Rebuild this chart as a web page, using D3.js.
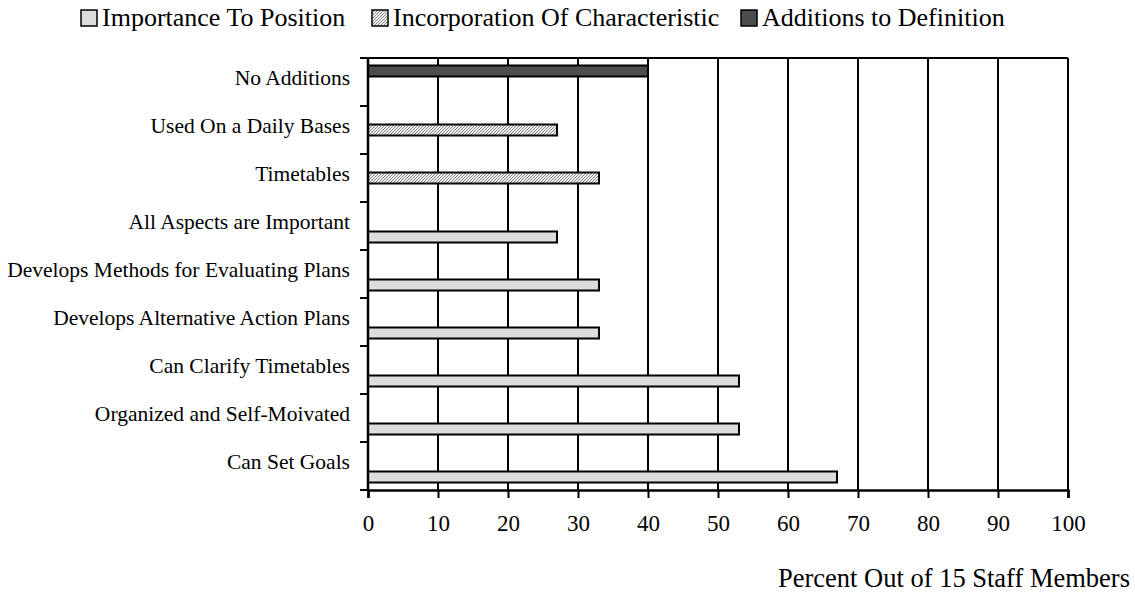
<!DOCTYPE html>
<html>
<head>
<meta charset="utf-8">
<script src="https://cdn.jsdelivr.net/npm/d3@7"></script>
<style>
  html, body { margin: 0; padding: 0; background: #fff; }
  svg { display: block; }
  text { font-family: "Liberation Serif", "Times New Roman", serif; fill: #000; }
</style>
</head>
<body>
<svg id="chart" width="1135" height="608"></svg>
<script>
// Categories, listed top to bottom
const categories = [
  "No Additions",
  "Used On a Daily Bases",
  "Timetables",
  "All Aspects are Important",
  "Develops Methods for Evaluating Plans",
  "Develops Alternative Action Plans",
  "Can Clarify Timetables",
  "Organized and Self-Moivated",
  "Can Set Goals"
];
const seriesNames = ["Importance To Position", "Incorporation Of Characteristic", "Additions to Definition"];
// Percent of staff per category, one array per series (null = no bar)
const importance    = [null, null, null, 27, 33, 33, 53, 53, 67];
const incorporation = [null, 27, 33, null, null, null, null, null, null];
const additions     = [40, null, null, null, null, null, null, null, null];
const xTicks = [0, 10, 20, 30, 40, 50, 60, 70, 80, 90, 100];

const seriesValues = [importance, incorporation, additions];

const svg = d3.select("#chart");
const defs = svg.append("defs");
const hatch = defs.append("pattern")
  .attr("id", "hatch").attr("patternUnits", "userSpaceOnUse")
  .attr("width", 3).attr("height", 3);
hatch.append("rect").attr("width", 3).attr("height", 3).attr("fill", "#eeeeee");
hatch.append("path").attr("d", "M-1,1 l2,-2 M0,3 l3,-3 M2,4 l2,-2")
  .attr("stroke", "#8a8a8a").attr("stroke-width", 1);

const fills = ["#dcdcdc", "url(#hatch)", "#4d4d4d"];

const margin = { left: 368, right: 1068, top: 58, bottom: 490 };

const x = d3.scaleLinear().domain([0, 100]).range([margin.left, margin.right]);
const y = d3.scaleBand().domain(categories).range([margin.top, margin.bottom]).paddingInner(0).paddingOuter(0);
// Within each band the series stack from the bottom slot (series 0) upward
const slot = d3.scaleBand().domain([2, 1, 0]).range([0, y.bandwidth()]).paddingInner(0).paddingOuter(0.68);

// Vertical gridlines
svg.append("g").selectAll("line").data(xTicks.slice(1)).join("line")
  .attr("x1", d => x(d)).attr("x2", d => x(d))
  .attr("y1", margin.top).attr("y2", margin.bottom)
  .attr("stroke", "#000").attr("stroke-width", 2);

// Top border
svg.append("line")
  .attr("x1", margin.left).attr("x2", margin.right)
  .attr("y1", margin.top).attr("y2", margin.top)
  .attr("stroke", "#000").attr("stroke-width", 2);

// Bars
const barData = [];
categories.forEach((c, i) => {
  seriesValues.forEach((vals, s) => {
    if (vals[i] != null) barData.push({ c, s, v: vals[i] });
  });
});
svg.append("g").selectAll("rect").data(barData).join("rect")
  .attr("x", x(0))
  .attr("y", d => y(d.c) + slot(d.s))
  .attr("width", d => x(d.v) - x(0))
  .attr("height", slot.bandwidth())
  .attr("fill", d => fills[d.s])
  .attr("stroke", "#000").attr("stroke-width", 2);

// X axis
const xAxis = svg.append("g").attr("transform", `translate(0,${margin.bottom})`)
  .call(d3.axisBottom(x).tickValues(xTicks).tickSize(8).tickPadding(17).tickFormat(d3.format("d")));
xAxis.select(".domain").attr("stroke-width", 2.5);
xAxis.selectAll(".tick line").attr("stroke-width", 2);
xAxis.selectAll("text").style("font-size", "23px").style("font-family", "Liberation Serif, serif");

// Y axis: ticks at band boundaries, labels centred on each band
const boundaries = categories.map(c => y(c)).concat([margin.bottom]);
svg.append("line")
  .attr("x1", margin.left).attr("x2", margin.left)
  .attr("y1", margin.top).attr("y2", margin.bottom)
  .attr("stroke", "#000").attr("stroke-width", 2.5);
svg.append("g").selectAll("line").data(boundaries).join("line")
  .attr("x1", margin.left - 8).attr("x2", margin.left)
  .attr("y1", d => d).attr("y2", d => d)
  .attr("stroke", "#000").attr("stroke-width", 2);
svg.append("g").selectAll("text").data(categories).join("text")
  .attr("x", margin.left - 18)
  .attr("y", d => y(d) + y.bandwidth() / 2 - 2)
  .attr("text-anchor", "end")
  .attr("dominant-baseline", "middle")
  .style("font-size", "21.5px")
  .text(d => d);

// Axis title
svg.append("text")
  .attr("x", 1130).attr("y", 587)
  .attr("text-anchor", "end")
  .style("font-size", "26.5px")
  .text("Percent Out of 15 Staff Members");

// Legend
const legendX = [81, 372, 741];
const legend = svg.append("g").selectAll("g").data(seriesNames).join("g")
  .attr("transform", (d, i) => `translate(${legendX[i]},10)`);
legend.append("rect").attr("width", 16).attr("height", 16)
  .attr("fill", (d, i) => fills[i]).attr("stroke", "#000").attr("stroke-width", 1.5);
legend.append("text").attr("x", 21).attr("y", 16)
  .style("font-size", "26px").text(d => d);
</script>
</body>
</html>
